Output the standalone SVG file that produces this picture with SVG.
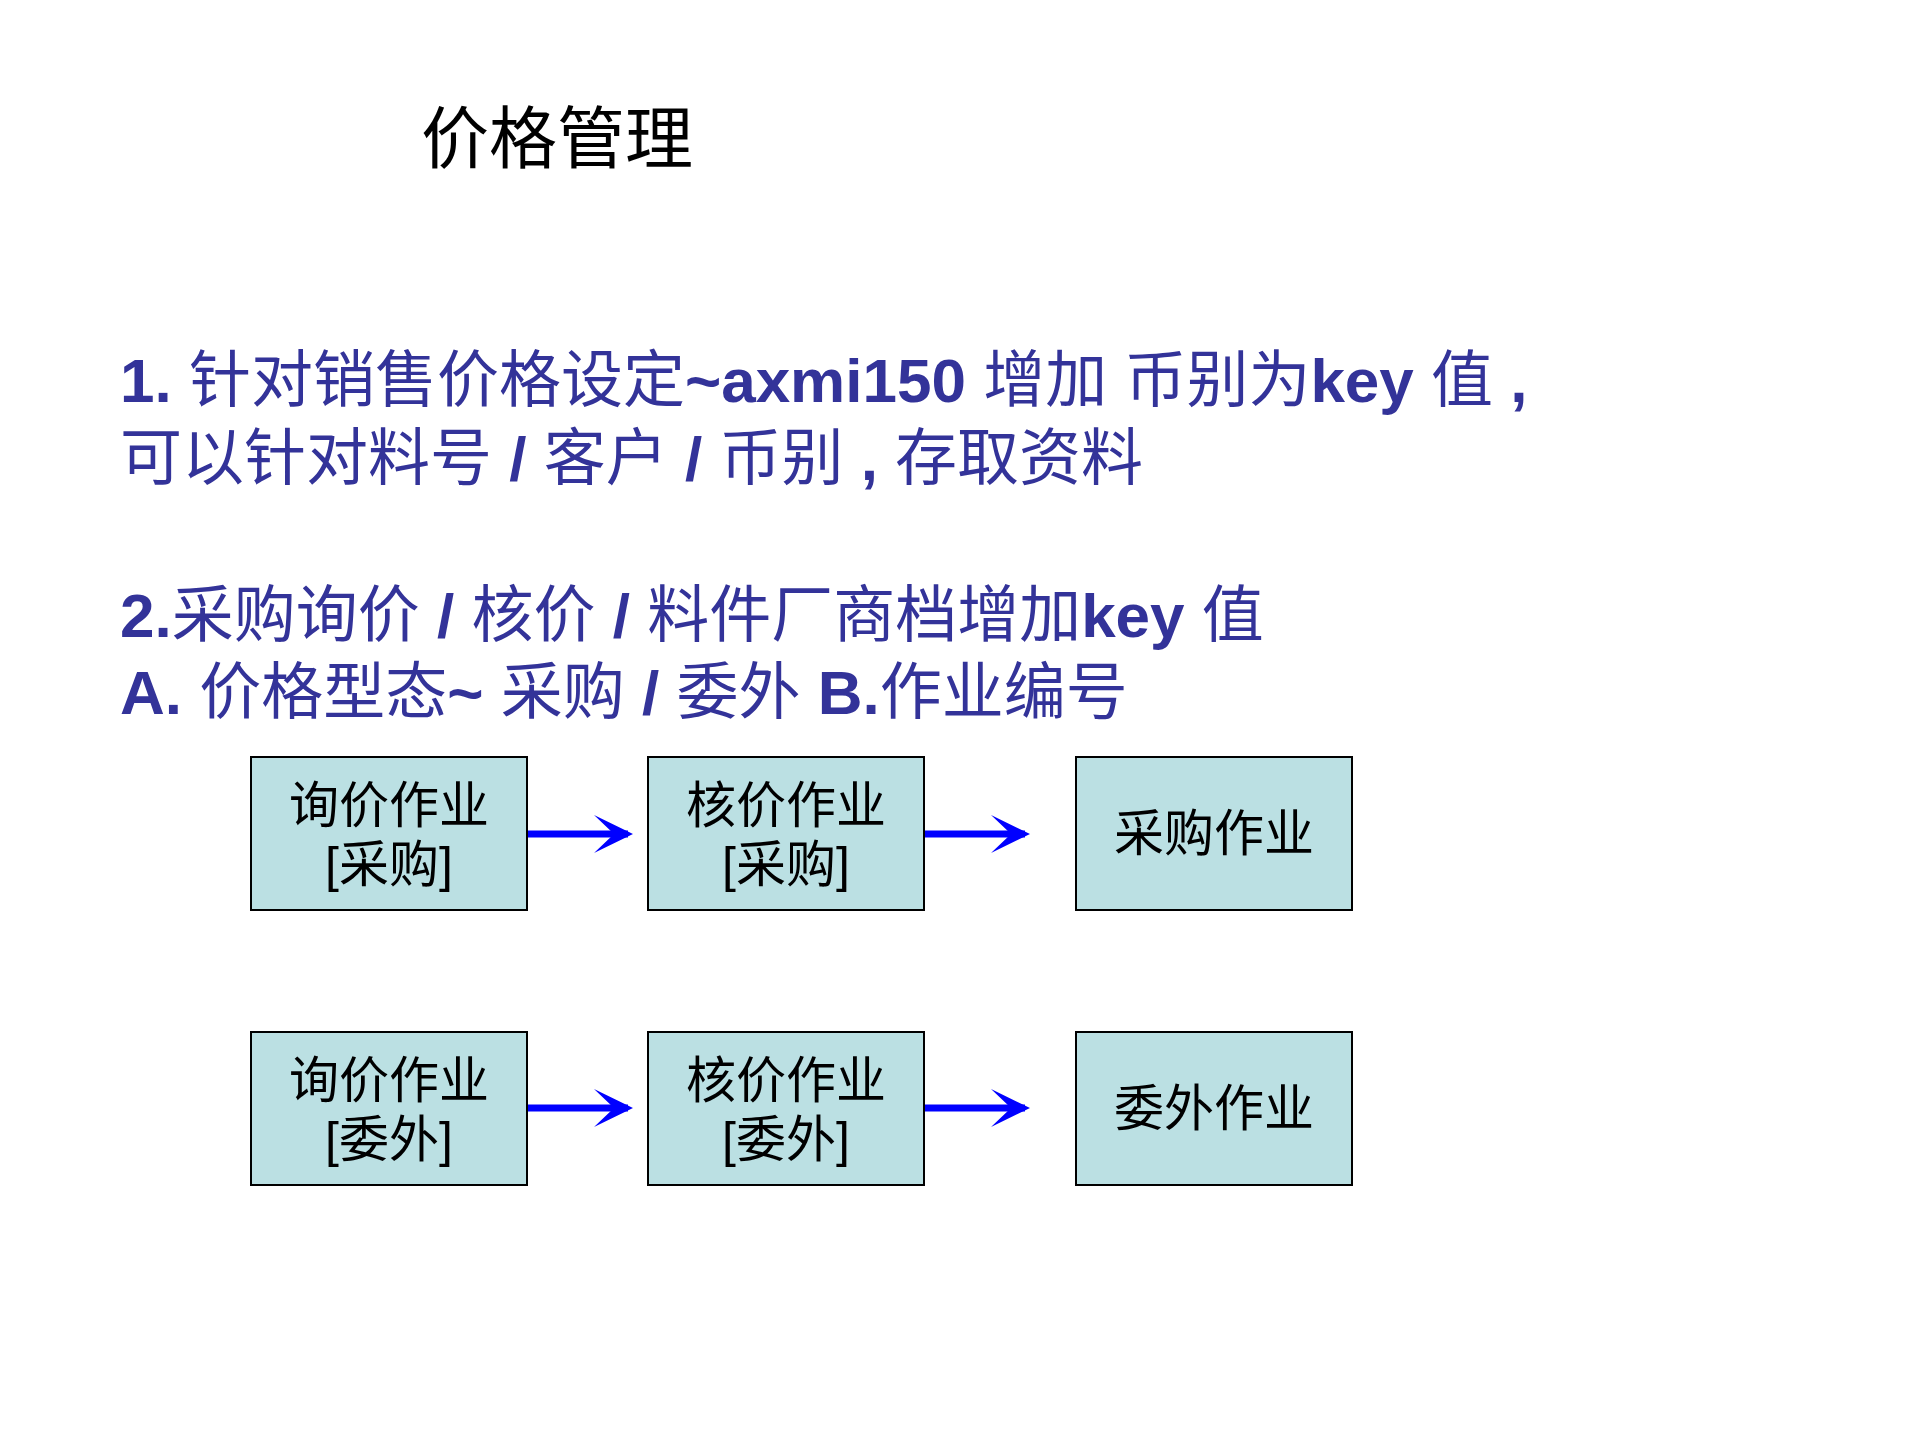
<svg xmlns="http://www.w3.org/2000/svg" width="1920" height="1440" viewBox="0 0 1920 1440">
<style>
.t{font-family:"Liberation Sans","Noto Sans CJK SC",sans-serif;fill:#333399;font-size:62px}
.b{font-weight:bold}
.box{fill:#BBE0E3;stroke:#000;stroke-width:2}
.bt{font-family:"Liberation Sans","Noto Sans CJK SC",sans-serif;font-size:50px;fill:#000;text-anchor:middle}
.ln{stroke:#0000FF;stroke-width:7;fill:none}
</style>
<defs>
<marker id="ah" markerWidth="12" markerHeight="12" refX="10" refY="6" orient="auto" markerUnits="userSpaceOnUse" viewBox="0 0 12 12">
</marker>
</defs>
<rect width="1920" height="1440" fill="#fff"/>
<text x="421" y="163" font-family="Liberation Sans,Noto Sans CJK SC,sans-serif" font-size="68" fill="#000">价格管理</text>
<text class="t" x="120" y="402"><tspan class="b">1. </tspan>针对销售价格设定<tspan class="b">~axmi150 </tspan>增加 币别为<tspan class="b">key </tspan>值<tspan class="b"> ,</tspan></text>
<text class="t" x="120" y="480">可以针对料号<tspan class="b"> / </tspan>客户<tspan class="b"> / </tspan>币别<tspan class="b"> , </tspan>存取资料</text>
<text class="t" x="120" y="637"><tspan class="b">2.</tspan>采购询价<tspan class="b"> / </tspan>核价<tspan class="b"> / </tspan>料件厂商档增加<tspan class="b">key </tspan>值</text>
<text class="t" x="120" y="714"><tspan class="b">A. </tspan>价格型态<tspan class="b">~ </tspan>采购<tspan class="b"> / </tspan>委外 <tspan class="b">B.</tspan>作业编号</text>
<g id="connectors">
<path class="ln" d="M527 834H625M648 1108H0" style="display:none"/>
<path class="ln" d="M527 834H628M924 834H1025M527 1108H628M924 1108H1025"/>
<path fill="#0000FF" d="M594 815L633 834L594 853L614 834Z M991 815L1030 834L991 853L1011 834Z M594 1089L633 1108L594 1127L614 1108Z M991 1089L1030 1108L991 1127L1011 1108Z"/>
</g>
<g id="n1"><rect class="box" x="251" y="757" width="276" height="153"/><text class="bt" x="389" y="823">询价作业</text><text class="bt" x="389" y="882">[采购]</text></g>
<g id="n2"><rect class="box" x="648" y="757" width="276" height="153"/><text class="bt" x="786" y="823">核价作业</text><text class="bt" x="786" y="882">[采购]</text></g>
<g id="n3"><rect class="box" x="1076" y="757" width="276" height="153"/><text class="bt" x="1214" y="851">采购作业</text></g>
<g id="n4"><rect class="box" x="251" y="1032" width="276" height="153"/><text class="bt" x="389" y="1098">询价作业</text><text class="bt" x="389" y="1157">[委外]</text></g>
<g id="n5"><rect class="box" x="648" y="1032" width="276" height="153"/><text class="bt" x="786" y="1098">核价作业</text><text class="bt" x="786" y="1157">[委外]</text></g>
<g id="n6"><rect class="box" x="1076" y="1032" width="276" height="153"/><text class="bt" x="1214" y="1126">委外作业</text></g>
</svg>
